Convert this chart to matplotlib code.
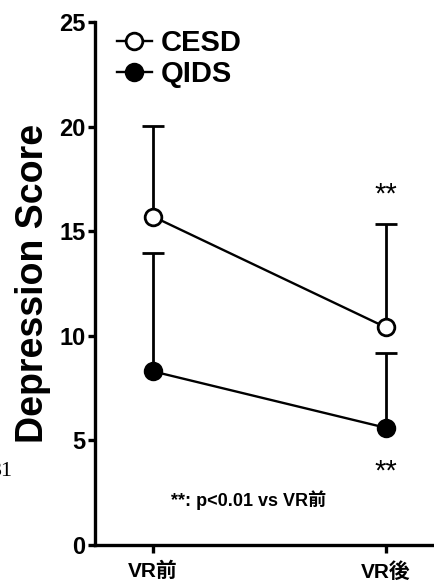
import matplotlib.pyplot as plt
import numpy as np

plt.rcParams['font.family'] = ['Liberation Sans', 'Noto Sans CJK JP', 'DejaVu Sans']

# --- data ---
groups = ['VR前', 'VR後']
cesd_mean = [15.7, 10.4]
cesd_sd = [4.35, 4.95]
qids_mean = [8.3, 5.6]
qids_sd = [5.65, 3.6]

x = np.arange(len(groups))

fig = plt.figure(figsize=(4.35, 5.84), dpi=100)
ax = fig.add_axes([0.2184, 0.0668, 0.7816, 0.8955])


def draw_series(means, sds, face, label):
    # upper-only error bars
    _, caps, _ = ax.errorbar(x, means, yerr=[np.zeros(len(sds)), sds], fmt='none',
                             ecolor='black', elinewidth=2.0, capsize=8, capthick=2.0, zorder=2)
    for c in caps:
        if np.allclose(c.get_ydata(), means):
            c.set_visible(False)
    line, = ax.plot(x, means, '-o', color='black', lw=1.7, ms=12, mfc=face,
                    mec='black', mew=2.0, zorder=3, label=label)
    return line


h1 = draw_series(cesd_mean, cesd_sd, 'white', 'CESD')
h2 = draw_series(qids_mean, qids_sd, 'black', 'QIDS')

# --- significance marks ---
ax.text(x[1], cesd_mean[1] + cesd_sd[1] + 1.4, '**', ha='center', va='center', fontsize=21)
ax.text(x[1], qids_mean[1] - 2.1, '**', ha='center', va='center', fontsize=21)
ax.text(0.453, 0.086, '**: p<0.01 vs VR前', transform=ax.transAxes, ha='center', va='center',
        fontsize=13, fontweight='bold')

# --- axes styling ---
ax.set_ylim(0, 25)
ax.set_xlim(-0.249, 1.21)
ax.set_yticks([0, 5, 10, 15, 20, 25])
ax.set_xticks(x)
ax.set_xticklabels(groups, fontsize=15, fontweight='bold')
for t in ax.get_yticklabels():
    t.set_fontsize(17)
    t.set_fontweight('bold')
ax.set_ylabel('Depression Score', fontsize=27, fontweight='bold', labelpad=6)
ax.spines['top'].set_visible(False)
ax.spines['right'].set_visible(False)
ax.spines['left'].set_linewidth(2.4)
ax.spines['bottom'].set_linewidth(2.4)
ax.tick_params(axis='y', width=2.4, length=5, direction='out', pad=2)
ax.tick_params(axis='x', width=2.4, length=6, direction='out', pad=6)

ax.legend(handles=[h1, h2], loc='upper left', bbox_to_anchor=(0.03, 1.008), frameon=False,
          prop={'size': 21, 'weight': 'bold'}, handlelength=1.2, handletextpad=0.3,
          labelspacing=0.1, borderaxespad=0)

# stray fragment at the left edge of the source image
fig.text(0.030, 0.193, '31', ha='right', va='center', fontsize=16, family='Liberation Serif')

fig.savefig('out.png', dpi=100)
